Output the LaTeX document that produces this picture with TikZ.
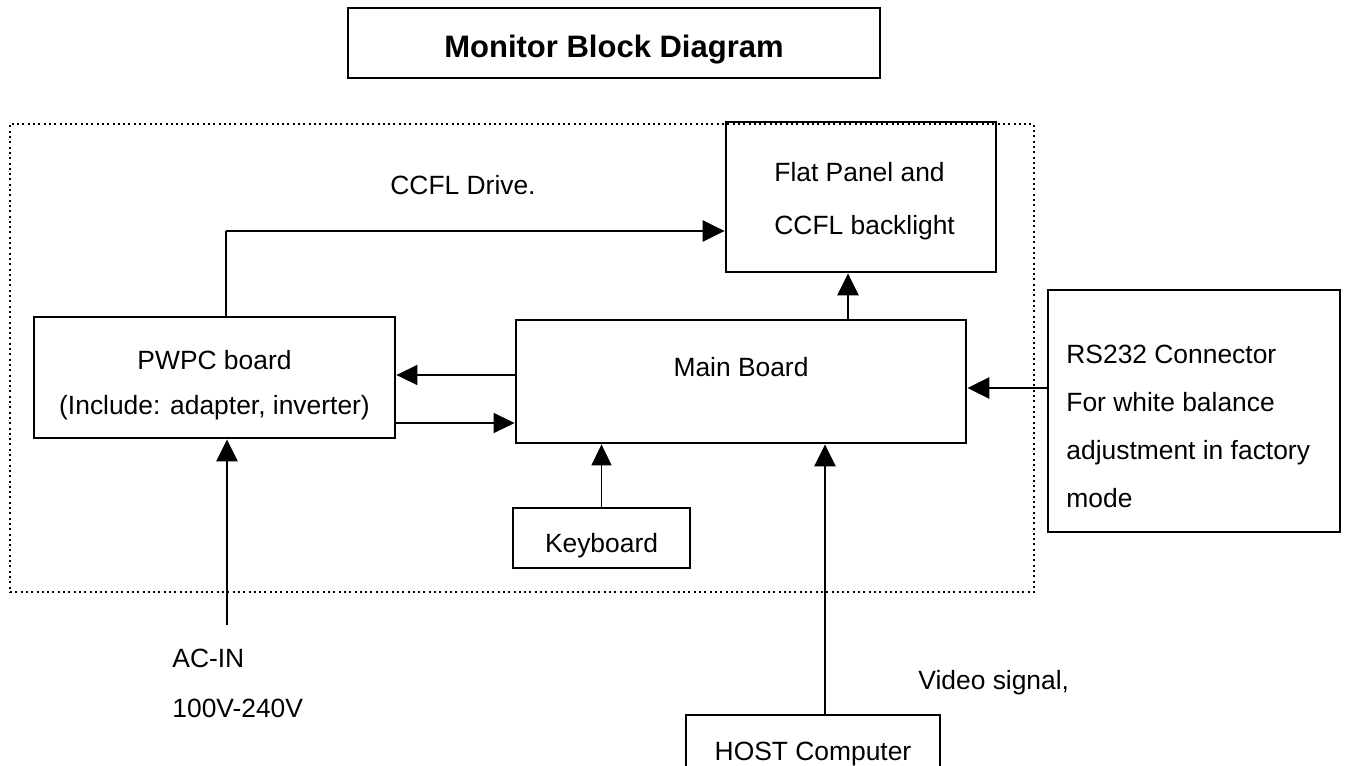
\documentclass[tikz,border=0pt]{standalone}
\usepackage{fontspec}
\setmainfont{Liberation Sans}
\usetikzlibrary{arrows.meta}
\newcommand\diagfont{\fontsize{13.2}{22.5}\selectfont}
\begin{document}
\begin{tikzpicture}[x=0.5pt,y=-0.5pt,
  box/.style={draw, line width=1.4pt, inner sep=0pt},
  lbl/.style={inner sep=0pt, font=\diagfont, align=left},
  ctext/.style={inner sep=0pt, font=\diagfont, align=center},
  dotbox/.style={draw, line width=1pt, dash pattern=on 1pt off 1.65pt, inner sep=0pt},
  conn/.style={line width=1.3pt, -{Triangle[length=11pt,width=10.5pt]}},
  thinconn/.style={line width=0.8pt, -{Triangle[length=10.5pt,width=10pt]}},
  plain/.style={line width=1.3pt}]
\useasboundingbox (0,0) rectangle (1358,765);
\clip (0,0) rectangle (1358,765);

% title
\node[box, minimum width=266pt, minimum height=35pt] (title) at (614,43) {};
\node[ctext, font=\fontsize{15.5}{18}\selectfont\bfseries] (title-t) at (614,49.5) {Monitor Block Diagram};

% monitor enclosure
\node[dotbox, minimum width=512pt, minimum height=234pt] (unit) at (522,358) {};

% blocks
\node[box, minimum width=135pt, minimum height=75pt] (flat) at (861,197) {};
\node[lbl, anchor=west, font=\fontsize{13.2}{26.5}\selectfont] (flat-t) at (774,201.5)
      {Flat Panel and\\CCFL backlight};

\node[box, minimum width=180.5pt, minimum height=60.5pt] (pwpc) at (214.5,377.5) {};
\node[ctext] (pwpc-t) at (214.5,385) {PWPC board\\(Include: adapter, inverter)};

\node[box, minimum width=225pt, minimum height=61.5pt] (main) at (741,381.5) {};
\node[ctext] (main-t) at (741,367) {Main Board};

\node[box, minimum width=88.5pt, minimum height=30pt] (kb) at (601.5,538) {};
\node[ctext] (kb-t) at (601.5,545.5) {Keyboard};

\node[box, minimum width=146pt, minimum height=121pt] (rs) at (1194,411) {};
\node[lbl, anchor=west, font=\fontsize{13.2}{24}\selectfont] (rs-t) at (1066,426)
      {RS232 Connector\\For white balance\\adjustment in factory\\mode};

\node[box, minimum width=127pt, minimum height=40pt] (host) at (813,755) {};
\node[ctext] (host-t) at (813,754.5) {HOST Computer};

% free labels
\node[lbl, anchor=west] (ccfl) at (390,185) {CCFL Drive.};
\node[lbl, anchor=west, font=\fontsize{13.2}{25}\selectfont] (acin) at (172,683) {AC-IN\\100V-240V};
\node[lbl, anchor=west] (video) at (918,683) {Video signal,};

% connector guides
\coordinate (ccflbend) at (226,231);
\coordinate (upx) at (848,0);
\coordinate (ya) at (0,375);
\coordinate (yb) at (0,423);
\coordinate (yrs) at (0,388);
\coordinate (acsrc) at (227,625);
\coordinate (hx) at (825,0);

% connectors
\draw[plain] (pwpc.north -| ccflbend) -- (ccflbend);
\draw[conn] (ccflbend) -- (ccflbend -| flat.west);
\draw[conn] (main.north -| upx) -- (flat.south -| upx);
\draw[thinconn] (main.west |- ya) -- (pwpc.east |- ya);
\draw[thinconn] (pwpc.east |- yb) -- (main.west |- yb);
\draw[thinconn] (kb.north) -- (kb.north |- main.south);
\draw[conn] (rs.west |- yrs) -- (main.east |- yrs);
\draw[conn] (acsrc) -- (acsrc |- pwpc.south);
\draw[conn] (host.north -| hx) -- (main.south -| hx);
\end{tikzpicture}
\end{document}
